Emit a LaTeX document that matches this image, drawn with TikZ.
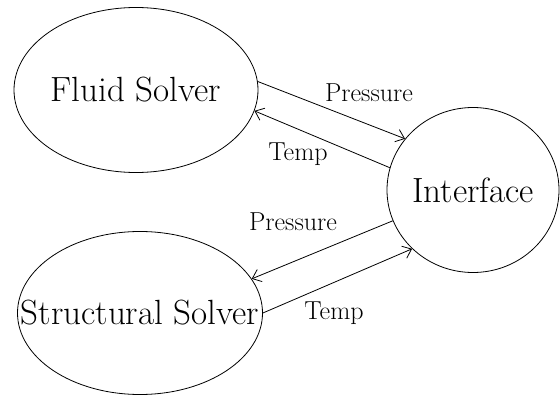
\documentclass[tikz,border=0pt]{standalone}
\usepackage{tikz}
\usetikzlibrary{arrows.meta,shapes.geometric}

\begin{document}
\begin{tikzpicture}[x=1pt,y=-1pt]
\tikzstyle{solver}=[ellipse,draw=black,line width=0.8pt,inner sep=0pt,label={[font=\fontsize{35}{42}\selectfont]center:#1}]
\tikzstyle{flow}=[-{Straight Barb[length=8pt,width=13pt]},line width=0.8pt]
\tikzstyle{tag}=[inner sep=0pt,font=\fontsize{26}{31}\selectfont]
\useasboundingbox (0,0) rectangle (560,396);
\node[solver=Fluid Solver,minimum width=244pt,minimum height=165pt] (fluid) at (136,90) {};
\node[solver=Structural Solver,minimum width=245pt,minimum height=163pt] (struct) at (140,313) {};
\node[solver=Interface,minimum width=172pt,minimum height=165pt] (iface) at (473,190) {};
\node[tag] (p1) at (369,93) {Pressure};
\node[tag] (t1) at (298,154) {Temp};
\node[tag] (p2) at (293,222) {Pressure};
\node[tag] (t2) at (334,313) {Temp};
\draw[flow] (fluid.4) -- (iface.143);
\draw[flow] (iface.165) -- (fluid.-10);
\draw[flow] (iface.201) -- (struct.17);
\draw[flow] (struct.0) -- (iface.224);
\end{tikzpicture}
\end{document}
